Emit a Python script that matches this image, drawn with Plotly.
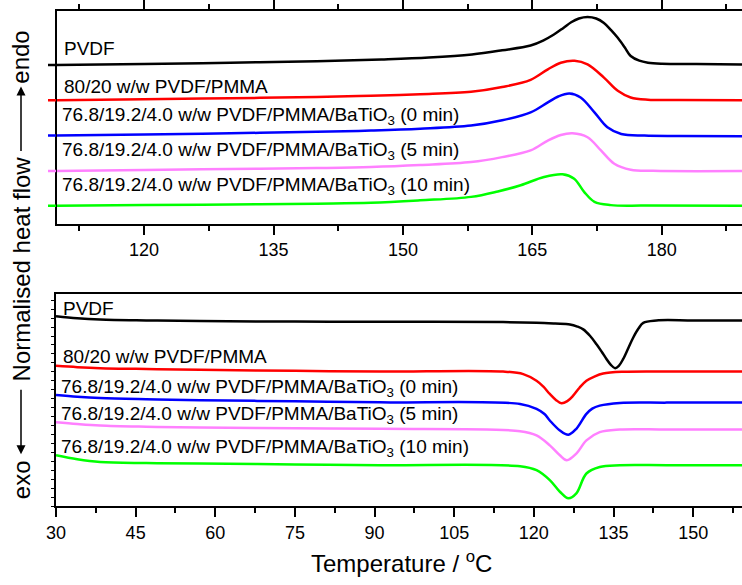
import plotly.graph_objects as go

# ---------------- data ----------------
# Heating (top panel): temperature (°C) and normalised heat flow (a.u., offset)
top_T_pvdf = [109.8, 120, 130, 140, 147.5, 153, 158, 161.5, 164.8, 166.3, 167.5, 168.6, 169.5, 170.4,
              171.4, 172.4, 173.3, 174.1, 174.9, 175.7, 176.4, 177.4, 178.4, 180, 184, 189.3]
top_pvdf = [159.7, 160.7, 162, 163.5, 165.3, 167.2, 170.3, 174.5, 179.3, 184.5, 190.3, 197, 202.7, 206.5,
            208, 206.5, 202, 195, 187, 177.5, 168.7, 164, 162, 161, 160.7, 160.3]

top_T_blend = [109.8, 120, 130, 140, 146.3, 152, 157.9, 161.5, 164.8, 166.8, 168.3, 169.9, 171.4, 173.3,
               174.9, 176.4, 178.4, 182, 189.3]
top_blend = [124.3, 125.2, 126.2, 127.5, 128.7, 130.2, 132.7, 137.5, 144.7, 155.3, 162, 164, 160.3, 147,
             133.7, 127, 124.7, 124.4, 124.3]

top_T_bt0 = [109.8, 120, 130, 140, 146.3, 152, 157.9, 161.5, 164.8, 166.8, 168.0, 169.3, 170.6, 172.2,
             173.7, 175.3, 178.0, 182, 189.3]
top_bt0 = [88.7, 89.7, 91, 92.4, 93.7, 95.5, 98.7, 104, 112, 122, 128, 131, 127, 112, 97, 90.3, 88.7, 88.3, 88]

top_T_bt5 = [109.8, 120, 130, 140, 146.3, 152, 157.9, 161.5, 164.8, 166.8, 168.3, 169.65, 171.4, 172.95,
             174.5, 176.4, 179, 189.3]
top_bt5 = [53, 54, 55, 56, 57, 59, 62, 67, 73.7, 83.7, 89.3, 91, 87, 73.7, 60.3, 54.3, 53.2, 53]

top_T_bt10 = [109.8, 120, 130, 140, 146.3, 152, 157.9, 161, 163.65, 166.35, 168.5, 169.85, 171.0, 172.2,
              174.1, 178, 189.3]
top_bt10 = [18, 18.7, 19.4, 20.2, 21, 23.5, 27, 32.5, 38.7, 47, 49.7, 45.3, 32, 22, 18.7, 18.2, 18]

# Cooling (bottom panel)
bot_T_pvdf = [30, 34, 38.3, 47, 57.1, 75, 91, 114.2, 120.5, 124, 126.8, 128.2, 129.3, 130.6, 131.8, 132.8,
              133.7, 134.5, 135.3, 136, 136.8, 137.8, 138.7, 139.7, 140.6, 143.1, 150, 159.2]
bot_pvdf = [191, 189, 187.7, 186.7, 186, 185.5, 185.3, 185, 184.3, 183.5, 182.7, 180.5, 177.7, 171, 162.7,
            155, 147.7, 142, 138.7, 141, 147.7, 159, 169.3, 178.5, 184.3, 186.7, 186.7, 186.7]

bot_T_blend = [30, 34, 38.3, 47, 57.1, 75, 91, 114.2, 118, 120.5, 121.8, 123, 124.2, 125.2, 126.3, 127.4,
               128.6, 129.9, 131.5, 133.05, 136.8, 145, 159.2]
bot_blend = [141, 139.7, 138.7, 137.8, 137, 136, 135.3, 135.3, 132.7, 126, 120, 112.7, 106.5, 103.3, 105.5,
             111, 119, 126, 130.5, 133.3, 135, 135.3, 135.3]

bot_T_bt0 = [30, 34, 38.3, 47, 57.1, 75, 91, 117.4, 120.5, 122, 123, 124.9, 126.5, 128, 129.9, 131, 132.4,
             136.2, 145, 159.2]
bot_bt0 = [111.7, 110, 108.7, 107.5, 106.5, 105.3, 104.3, 102.7, 97.7, 92.5, 86, 76, 71.7, 77.7, 92.7, 98,
           101, 103.7, 104, 104]

bot_T_bt5 = [30, 34, 38.3, 47, 57.1, 75, 91, 117.4, 120.5, 123, 124.9, 126.2, 128, 129.9, 132.4, 136.2, 145, 159.2]
bot_bt5 = [84.3, 82.5, 81, 79.8, 79, 78.2, 77.7, 75.3, 71, 61, 51, 46, 52.7, 66, 74.3, 77, 77, 77]

bot_T_bt10 = [30, 34, 38.3, 47, 57.1, 75, 91, 117.4, 120.5, 123, 124.9, 126.5, 128, 129.9, 132.4, 136.2, 145, 159.2]
bot_bt10 = [51, 47, 44.3, 43.2, 42.7, 41.8, 41, 40, 36, 26, 14.3, 7.7, 12.7, 32.7, 39.3, 41, 41, 41]

labels = ["PVDF", "80/20 w/w PVDF/PMMA",
          "76.8/19.2/4.0 w/w PVDF/PMMA/BaTiO<sub>3</sub> (0 min)",
          "76.8/19.2/4.0 w/w PVDF/PMMA/BaTiO<sub>3</sub> (5 min)",
          "76.8/19.2/4.0 w/w PVDF/PMMA/BaTiO<sub>3</sub> (10 min)"]
colors = ["#000000", "#ff0000", "#0000ff", "#ff80ff", "#00ff00"]

top_x_ticks = [120, 135, 150, 165, 180]
bot_x_ticks = [30, 45, 60, 75, 90, 105, 120, 135, 150]
top_x_range = [109.85, 189.3]
bot_x_range = [30, 159.2]

# label anchor positions (data coords)
top_label_x = [110.5, 110.5, 110.3, 110.3, 110.3]
top_label_y = [176, 138, 108, 73, 38]
bot_label_x = [31.0, 30.9, 30.6, 30.6, 30.6]
bot_label_y = [198.5, 150, 118.5, 91.5, 58]

# ---------------- figure ----------------
W, H = 742, 585
ML, MR, MT, MB = 48, 0, 8, 79
plot_h = H - MT - MB
plot_w = W - ML - MR

def py(px):
    return (H - MB - px) / plot_h

def pxx(px):
    return (px - ML) / plot_w

top_left_px = 56.5
bot_left_px = 56
top_scale = (W - top_left_px) / (top_x_range[1] - top_x_range[0])  # px per degree
stub_range = [top_x_range[0] - (top_left_px - ML) / top_scale, top_x_range[1]]

fig = go.Figure()
top_sets = [(top_T_pvdf, top_pvdf), (top_T_blend, top_blend), (top_T_bt0, top_bt0),
            (top_T_bt5, top_bt5), (top_T_bt10, top_bt10)]
bot_sets = [(bot_T_pvdf, bot_pvdf), (bot_T_blend, bot_blend), (bot_T_bt0, bot_bt0),
            (bot_T_bt5, bot_bt5), (bot_T_bt10, bot_bt10)]

for (T, v), c in zip(top_sets, colors):
    # short lead-in of the trace running past the left axis (as in the original)
    fig.add_trace(go.Scatter(x=[stub_range[0], T[0]], y=[v[0], v[0]], mode="lines", xaxis="x3", yaxis="y",
                             line=dict(color=c, width=2.5), showlegend=False, hoverinfo="skip"))
for (T, v), c in zip(top_sets, colors):
    fig.add_trace(go.Scatter(x=T, y=v, mode="lines", xaxis="x", yaxis="y",
                             line=dict(color=c, width=2.5, shape="spline", smoothing=1.0),
                             showlegend=False, hoverinfo="skip"))
for (T, v), c in zip(bot_sets, colors):
    fig.add_trace(go.Scatter(x=T, y=v, mode="lines", xaxis="x2", yaxis="y2",
                             line=dict(color=c, width=2.5, shape="spline", smoothing=1.0),
                             showlegend=False, hoverinfo="skip"))

font_fam = "Arial, 'Liberation Sans', sans-serif"
annos = []
for lab, x, y in zip(labels, top_label_x, top_label_y):
    annos.append(dict(text=lab, x=x, y=y, xref="x", yref="y", xanchor="left", yanchor="middle",
                      showarrow=False, font=dict(family=font_fam, size=19, color="black")))
for lab, x, y in zip(labels, bot_label_x, bot_label_y):
    annos.append(dict(text=lab, x=x, y=y, xref="x2", yref="y2", xanchor="left", yanchor="middle",
                      showarrow=False, font=dict(family=font_fam, size=19, color="black")))

# axis titles
annos.append(dict(text="Temperature / <sup>o</sup>C", x=pxx(401), y=py(562), xref="paper", yref="paper",
                  xanchor="center", yanchor="middle", showarrow=False,
                  font=dict(family=font_fam, size=24, color="black")))
ytx = pxx(21)
annos.append(dict(text="endo", x=ytx, y=py(55), xref="paper", yref="paper", textangle=-90,
                  xanchor="center", yanchor="middle", showarrow=False,
                  font=dict(family=font_fam, size=24, color="black")))
annos.append(dict(text="Normalised heat flow", x=ytx, y=py(268), xref="paper", yref="paper", textangle=-90,
                  xanchor="center", yanchor="middle", showarrow=False,
                  font=dict(family=font_fam, size=24, color="black")))
annos.append(dict(text="exo", x=ytx, y=py(480), xref="paper", yref="paper", textangle=-90,
                  xanchor="center", yanchor="middle", showarrow=False,
                  font=dict(family=font_fam, size=24, color="black")))
# arrows
annos.append(dict(text="", x=pxx(21), y=py(84), xref="paper", yref="paper", ax=0, ay=66,
                  showarrow=True, arrowhead=2, arrowsize=1.2, arrowwidth=1.5, arrowcolor="black"))
annos.append(dict(text="", x=pxx(21), y=py(454), xref="paper", yref="paper", ax=0, ay=-66,
                  showarrow=True, arrowhead=2, arrowsize=1.2, arrowwidth=1.5, arrowcolor="black"))

tickfont = dict(family=font_fam, size=18, color="black")
common_x = dict(showline=True, linecolor="black", linewidth=2, ticks="outside", ticklen=9, tickwidth=1.5,
                tickcolor="black", showgrid=False, zeroline=False, tickfont=tickfont,
                minor=dict(ticks="outside", ticklen=5, tickwidth=1.5, tickcolor="black", dtick=7.5))

fig.update_layout(
    width=W, height=H, margin=dict(l=ML, r=MR, t=MT, b=MB),
    paper_bgcolor="white", plot_bgcolor="rgba(0,0,0,0)",
    xaxis=dict(domain=[pxx(top_left_px), 1], range=top_x_range, anchor="y", tickvals=top_x_ticks,
               mirror="ticks", **common_x),
    xaxis3=dict(domain=[0, 1], range=stub_range, anchor="y", visible=False),
    yaxis=dict(domain=[py(222), 1], range=[0, 214], anchor="x", showline=True, linecolor="black",
               linewidth=2, ticks="", showticklabels=False, showgrid=False, zeroline=False),
    xaxis2=dict(domain=[pxx(bot_left_px), 1], range=bot_x_range, anchor="y2", tickvals=bot_x_ticks,
                mirror=True, **common_x),
    yaxis2=dict(domain=[0, py(293)], range=[0, 213], anchor="x2", showline=True, linecolor="black",
                linewidth=2, ticks="outside", ticklen=3, tickwidth=1.2, tickcolor="black", dtick=9, tick0=0,
                showticklabels=False, showgrid=False, zeroline=False),
    annotations=annos,
)

fig.write_html("out.html")
